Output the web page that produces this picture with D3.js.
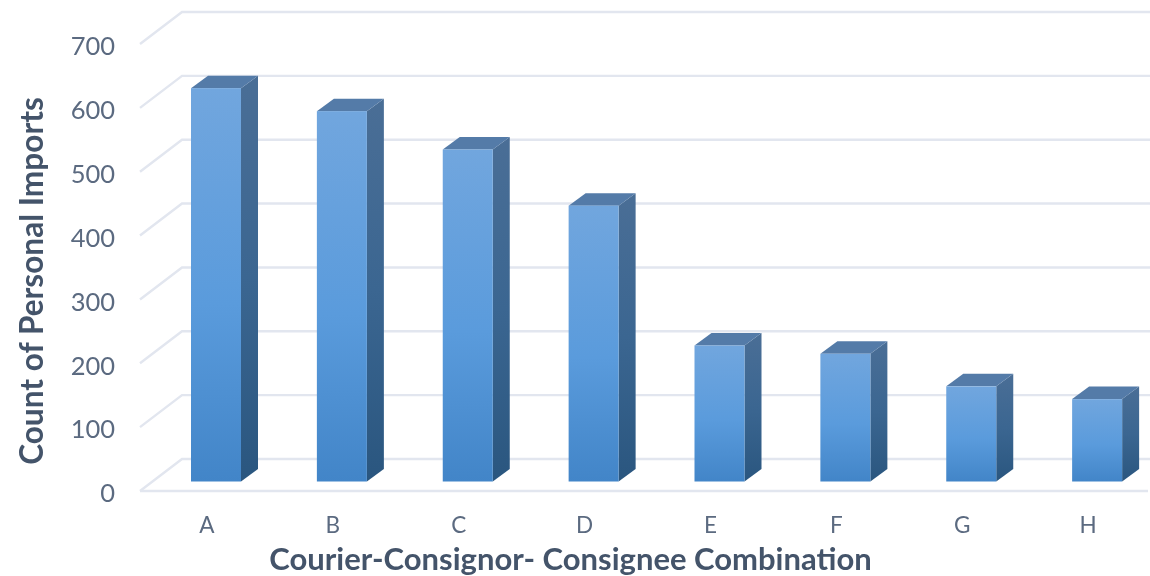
<!DOCTYPE html>
<html><head><meta charset="utf-8">
<script src="https://cdn.jsdelivr.net/npm/d3@7"></script>
<style>
html,body{margin:0;padding:0;background:#fff;overflow:hidden}
svg{display:block;filter:blur(0.5px)}
</style></head><body>
<svg id="c" width="1150" height="576"></svg>
<script>
const categories = ["A","B","C","D","E","F","G","H"];
const counts = [616,580,520,432,213,200,149,129];
const yTicks = [0,100,200,300,400,500,600,700];
const yTitle = "Count of Personal Imports";
const xTitle = "Courier-Consignor- Consignee Combination";

const svg = d3.select("#c");
const x = d3.scaleBand().domain(categories).range([144,1151]);
const y = d3.scaleLinear().domain([0,700]).range([491,44]);
const floorLeft = 140, backDx = 42, backDy = -32, right = 1150;
const barW = 50, barDx = 17, barDy = -12.5, barLift = 9.5, barInset = 47;

const defs = svg.append("defs");
function grad(id, stops){
  const g = defs.append("linearGradient").attr("id",id).attr("x1",0).attr("y1",0).attr("x2",0).attr("y2",1);
  stops.forEach(([o,c])=>g.append("stop").attr("offset",o).attr("stop-color",c));
}
grad("front",[[0,"#71a6de"],[0.55,"#5a9bdc"],[1,"#4285c8"]]);
grad("side",[[0,"#4a6e96"],[0.5,"#3b6691"],[1,"#2a567f"]]);

// walls: gridlines
const grid = svg.append("g").attr("fill","none").attr("stroke","#e2e6ef").attr("stroke-width",2.4);
yTicks.forEach(t=>{
  const yy = y(t);
  grid.append("path").attr("d",`M${floorLeft},${yy}L${floorLeft+backDx},${yy+backDy}L${right},${yy+backDy}`);
});
grid.append("path").attr("d",`M${floorLeft},${y(0)}L1148,${y(0)}`);

// bars
const bars = svg.append("g").selectAll("g").data(categories).join("g");
const bx = d => x(d)+barInset;
const val = d => counts[categories.indexOf(d)];
const base = y(0)-barLift;
bars.append("path").attr("fill","url(#side)").attr("d",d=>{
  const X=bx(d)+barW, T=y(val(d))-barLift;
  return `M${X},${T}L${X+barDx},${T+barDy}L${X+barDx},${base+barDy}L${X},${base}Z`;
});
bars.append("path").attr("fill","#547ba8").attr("d",d=>{
  const X=bx(d), T=y(val(d))-barLift;
  return `M${X},${T}L${X+barDx},${T+barDy}L${X+barW+barDx},${T+barDy}L${X+barW},${T}Z`;
});
bars.append("rect").attr("fill","url(#front)").attr("x",bx).attr("width",barW)
  .attr("y",d=>y(val(d))-barLift).attr("height",d=>base-(y(val(d))-barLift));

// axes
const yAxis = d3.axisLeft(y).tickValues(yTicks).tickSize(0).tickPadding(0);
const gy = svg.append("g").attr("transform","translate(115,0)").call(yAxis);
gy.select(".domain").remove();
gy.selectAll("text").attr("font-family","Lato").attr("font-size",25.5).attr("fill","#5b6a80").attr("dy","0.42em");

const xAxis = d3.axisBottom(x).tickSize(0).tickPadding(0);
const gx = svg.append("g").attr("transform","translate(0,517)").call(xAxis);
gx.select(".domain").remove();
gx.selectAll("text").attr("font-family","Lato").attr("font-size",22.5).attr("fill","#5b6a80").attr("dy","0.71em");

svg.append("text").attr("x",570.5).attr("y",569.5).attr("text-anchor","middle")
  .attr("font-family","Lato").attr("font-weight",700).attr("font-size",31).attr("fill","#44546a").text(xTitle);
svg.append("text").attr("transform","translate(43,281) rotate(-90)").attr("text-anchor","middle")
  .attr("font-family","Lato").attr("font-weight",700).attr("font-size",31.6).attr("fill","#44546a").text(yTitle);
</script>
</body></html>
